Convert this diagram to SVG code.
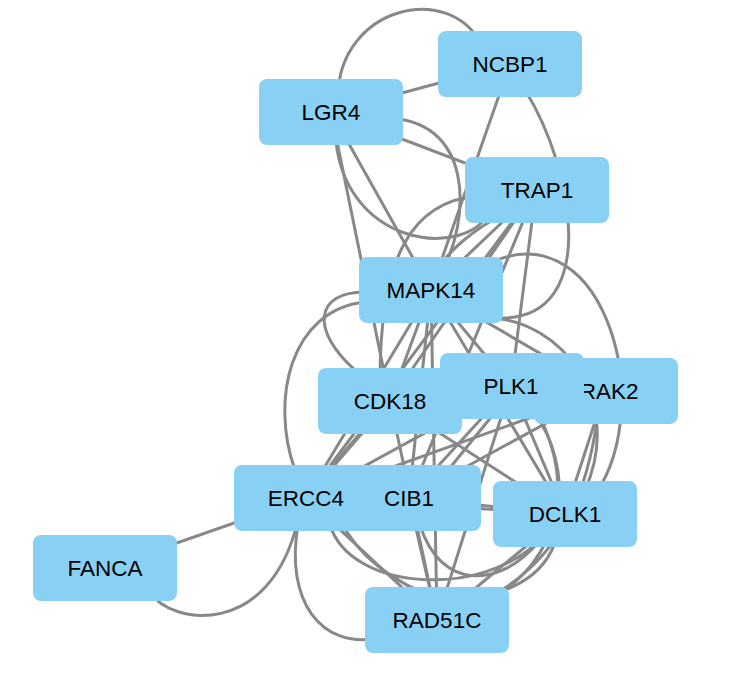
<svg xmlns="http://www.w3.org/2000/svg" width="733" height="693" viewBox="0 0 733 693">
<style>
.e{fill:none;stroke:#888888;stroke-width:3;stroke-linecap:round}
.n rect{fill:#89D0F5}
.n text{font-family:"Liberation Sans",Arial,sans-serif;font-size:22.5px;fill:#000;text-anchor:middle}
</style>
<rect width="733" height="693" fill="#ffffff"/>
<g id="edges">
<path class="e" d="M331,112 L510,64"/>
<path class="e" d="M338,95 C340,8 448,-20 482,45"/>
<path class="e" d="M331,112 L536,190"/>
<path class="e" d="M335,130 C340,250 470,260 490,210"/>
<path class="e" d="M331,112 L431,290"/>
<path class="e" d="M380,118 C475,115 472,220 440,275"/>
<path class="e" d="M331,112 L390,401"/>
<path class="e" d="M510,64 L431,290"/>
<path class="e" d="M525,90 C575,170 600,320 500,318"/>
<path class="e" d="M536,190 L431,290"/>
<path class="e" d="M536,190 L390,401"/>
<path class="e" d="M536,190 L306,498"/>
<path class="e" d="M536,190 L409,498"/>
<path class="e" d="M536,190 L511,386"/>
<path class="e" d="M480,196 C410,200 380,260 380,380"/>
<path class="e" d="M520,205 C480,225 440,250 420,300"/>
<path class="e" d="M431,290 L390,401"/>
<path class="e" d="M431,290 L306,498"/>
<path class="e" d="M431,290 L409,498"/>
<path class="e" d="M431,290 L511,386"/>
<path class="e" d="M431,290 L605,391"/>
<path class="e" d="M431,290 L565,514"/>
<path class="e" d="M431,290 L437,620"/>
<path class="e" d="M365,292 C315,292 310,330 355,370"/>
<path class="e" d="M365,302 C290,310 270,400 295,470"/>
<path class="e" d="M480,268 C600,200 660,400 595,495"/>
<path class="e" d="M490,318 C560,320 625,400 585,490"/>
<path class="e" d="M390,401 L565,514"/>
<path class="e" d="M390,401 L306,498"/>
<path class="e" d="M380,410 L320,480"/>
<path class="e" d="M390,401 L437,620"/>
<path class="e" d="M511,386 L306,498"/>
<path class="e" d="M511,386 L409,498"/>
<path class="e" d="M505,400 L440,480"/>
<path class="e" d="M511,386 L437,620"/>
<path class="e" d="M511,386 L565,514"/>
<path class="e" d="M525,400 C550,430 560,460 560,500"/>
<path class="e" d="M409,498 L565,514"/>
<path class="e" d="M306,498 L565,514"/>
<path class="e" d="M409,498 L437,620"/>
<path class="e" d="M306,498 L437,620"/>
<path class="e" d="M565,514 L437,620"/>
<path class="e" d="M306,498 L105,568"/>
<path class="e" d="M605,391 L565,514"/>
<path class="e" d="M605,391 L409,498"/>
<path class="e" d="M605,391 L306,498"/>
<path class="e" d="M150,592 C170,625 270,640 298,520"/>
<path class="e" d="M298,525 C285,600 320,650 380,638"/>
<path class="e" d="M330,525 C350,590 480,600 540,540"/>
<path class="e" d="M420,525 C440,590 500,590 540,540"/>
<path class="e" d="M600,400 C590,480 570,560 475,605"/>
<path class="e" d="M530,400 C575,470 570,560 480,605"/>
<path class="e" d="M560,520 C555,570 520,590 470,600"/>
<path class="e" d="M340,520 C360,560 400,585 440,600"/>
</g>
<g id="node-NCBP1" class="n"><rect x="438" y="31" width="144" height="66" rx="8"/><text x="510" y="72">NCBP1</text></g>
<g id="node-LGR4" class="n"><rect x="259" y="79" width="144" height="66" rx="8"/><text x="331" y="120">LGR4</text></g>
<g id="node-TRAP1" class="n"><rect x="465" y="157" width="144" height="66" rx="8"/><text x="537" y="198">TRAP1</text></g>
<g id="node-MAPK14" class="n"><rect x="359" y="257" width="144" height="66" rx="8"/><text x="431" y="298">MAPK14</text></g>
<g id="node-IRAK2" class="n"><rect x="534" y="358" width="144" height="66" rx="8"/><text x="606" y="399">IRAK2</text></g>
<g id="node-CDK18" class="n"><rect x="318" y="368" width="144" height="66" rx="8"/><text x="390" y="409">CDK18</text></g>
<g id="node-PLK1" class="n"><rect x="440" y="353" width="144" height="66" rx="8"/><text x="511" y="394">PLK1</text></g>
<g id="node-CIB1" class="n"><rect x="337" y="465" width="144" height="66" rx="8"/><text x="409" y="506">CIB1</text></g>
<g id="node-ERCC4" class="n"><rect x="234" y="465" width="144" height="66" rx="8"/><text x="306" y="506">ERCC4</text></g>
<g id="node-DCLK1" class="n"><rect x="493" y="481" width="144" height="66" rx="8"/><text x="565" y="522">DCLK1</text></g>
<g id="node-FANCA" class="n"><rect x="33" y="535" width="144" height="66" rx="8"/><text x="105" y="576">FANCA</text></g>
<g id="node-RAD51C" class="n"><rect x="365" y="587" width="144" height="66" rx="8"/><text x="437" y="628">RAD51C</text></g>
</svg>
